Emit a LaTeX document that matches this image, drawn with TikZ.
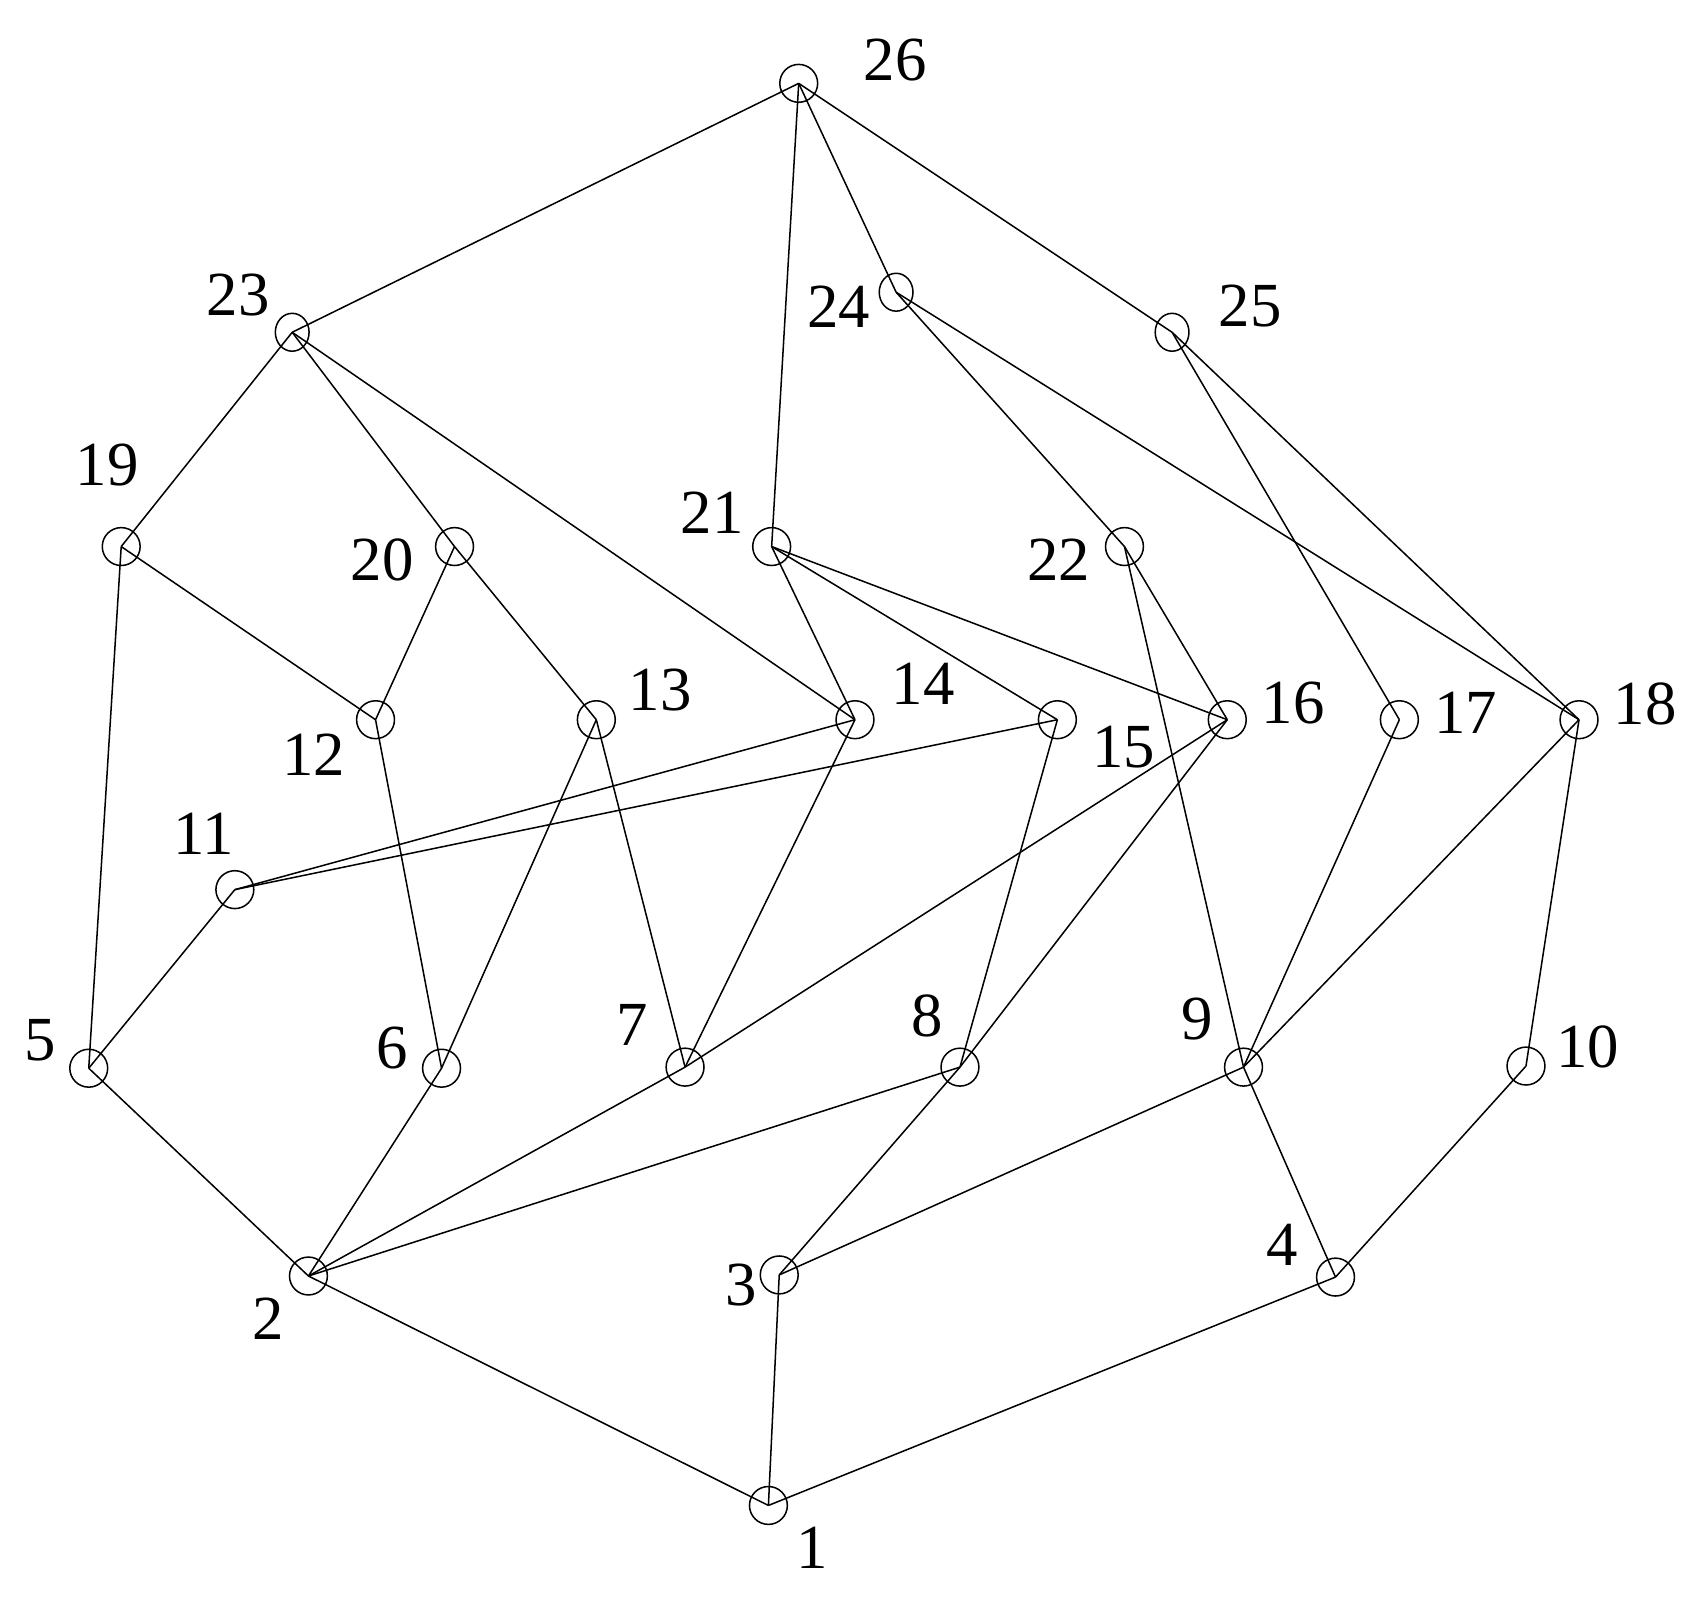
\documentclass[tikz,border=0pt]{standalone}
\usepackage{fontspec}
\setmainfont{Liberation Serif}
\usetikzlibrary{shapes.geometric}
\tikzset{
  vx/.style={draw,circle,inner sep=0pt,minimum size=8.75pt,line width=0.35pt},
  vxnarrow/.style={draw,ellipse,inner sep=0pt,minimum width=7.8pt,minimum height=8.75pt,line width=0.35pt},
  edge/.style={line width=0.35pt},
  vlabel/.style={inner sep=0pt,outer sep=0pt,font=\fontsize{14.5}{17}\selectfont}
}
\begin{document}
\begin{tikzpicture}[x=0.25pt,y=-0.25pt]
\path[use as bounding box,fill=white] (0,0) rectangle (1568,1481);

% vertices
\foreach \i/\x/\y in {1/710/1391, 2/285/1179, 3/720/1178, 4/1234/1180,
  5/82/987, 6/408/987, 7/633/986, 8/887/986, 9/1149/986, 10/1410/985,
  11/217/822, 12/347/665, 13/551/665, 14/790/665, 15/977/665, 16/1134/665,
  17/1293/665, 18/1459/665, 19/112/505, 20/420/505, 21/713/505, 22/1039/505,
  26/738/77}
  \node[vx] (n\i) at (\x,\y) {};
\foreach \i/\x/\y in {23/270/307, 24/828/270, 25/1083/307}
  \node[vxnarrow] (n\i) at (\x,\y) {};

% labels
\foreach \i/\x/\y in {1/750/1430, 2/248/1218, 3/685/1187, 4/1185/1150,
  5/37/961, 6/362/968, 7/584/947, 8/857/939, 9/1106/942, 10/1467/967,
  11/188/770, 12/290/697, 13/610/638, 14/853/632, 15/1038/690, 16/1195/650,
  17/1354/659, 18/1520/650, 19/99/430, 20/353/517, 21/658/474, 22/978/517,
  23/220/273, 24/775/283, 25/1155/283, 26/827/55}
  \node[vlabel] (l\i) at (\x,\y) {\i};

% edges
\foreach \a/\b in {1/2, 1/3, 1/4, 2/5, 2/6, 2/7, 2/8, 3/8, 3/9, 4/9, 4/10,
  5/11, 5/19, 6/12, 6/13, 7/13, 7/14, 7/16, 8/15, 8/16, 9/17, 9/18, 9/22,
  10/18, 11/14, 11/15, 12/19, 12/20, 13/20, 14/21, 14/23, 15/21, 16/21,
  16/22, 17/25, 18/24, 18/25, 19/23, 20/23, 21/26, 22/24, 23/26, 24/26, 25/26}
  \draw[edge] (n\a.center) -- (n\b.center);
\end{tikzpicture}
\end{document}
